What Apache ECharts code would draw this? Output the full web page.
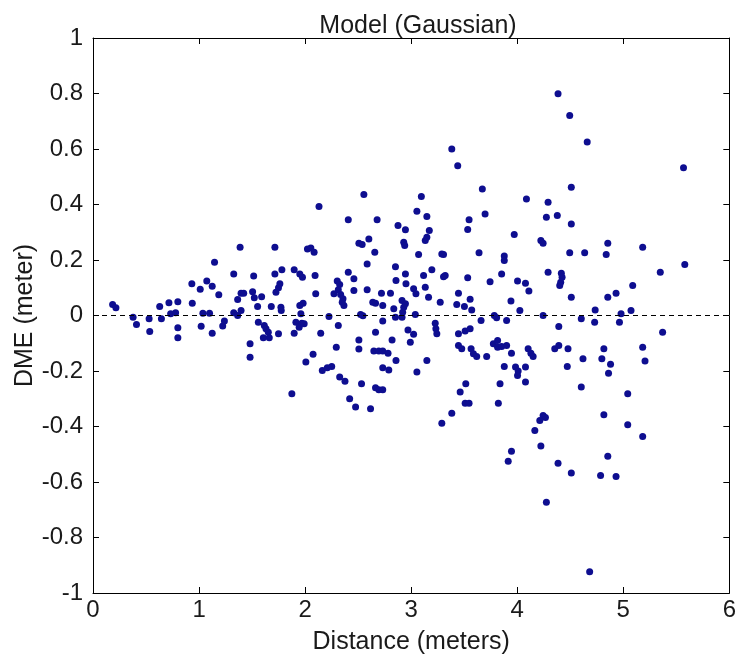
<!DOCTYPE html>
<html>
<head>
<meta charset="utf-8">
<script src="https://cdn.jsdelivr.net/npm/echarts@6/dist/echarts.min.js"></script>
<style>
html,body{margin:0;padding:0;background:#fff;}
#c{width:739px;height:665px;}
</style>
</head>
<body>
<div id="c"></div>
<script>
// Distance (meters) values
const distance = [
0.185,0.216,0.378,0.41,0.529,0.535,0.629,0.645,0.716,0.732,0.779,0.80,0.80,0.80,0.932,0.936,1.02,1.011,1.036,1.073,
1.124,1.099,1.124,1.146,1.186,1.223,1.239,1.327,1.327,1.364,1.364,1.387,1.396,1.396,1.421,1.481,1.481,1.505,1.515,1.521,
1.552,1.559,1.59,1.615,1.631,1.653,1.662,1.606,1.681,1.715,1.715,1.725,1.749,1.762,1.781,1.772,1.775,1.749,
1.875,1.897,1.95,1.975,1.897,1.913,1.944,1.969,1.991,1.96,1.981,1.95,2.007,2.075,2.022,2.054,2.085,2.094,2.1,2.131,
2.147,2.162,2.209,2.251,2.225,2.272,2.303,2.326,2.313,2.335,2.357,2.366,2.35,2.294,2.313,2.326,2.376,2.407,2.46,2.46,
2.407,2.42,2.476,2.507,2.538,2.601,2.507,2.507,2.523,2.545,2.532,2.554,2.585,2.585,2.617,2.638,2.664,2.657,2.648,2.695,
2.732,2.782,2.664,2.664,2.695,2.732,2.679,2.732,2.732,2.72,2.732,2.789,2.805,2.82,2.836,2.852,2.857,2.852,2.857,2.876,
2.946,2.914,2.92,2.914,2.93,2.946,2.93,2.939,2.946,2.951,2.97,2.992,3.023,3.023,3.045,3.039,3.054,3.07,3.096,3.054,
3.148,3.117,3.195,3.133,3.148,3.171,3.133,3.164,3.148,3.227,3.233,3.242,3.274,3.289,3.305,3.305,3.321,3.289,
4.385,4.495,4.66,3.383,3.439,3.671,4.51,4.087,4.291,3.697,3.546,3.533,4.275,4.378,4.51,3.972,4.223,4.244,3.64,3.878,
3.878,4.495,4.636,3.533,3.744,3.853,4.291,4.416,4.423,4.41,4.401,4.003,4.078,4.11,4.51,3.446,3.43,3.502,3.556,3.571,
3.941,4.025,3.659,3.784,3.806,3.9,4.244,4.604,4.73,4.735,3.446,3.509,3.556,3.446,3.477,3.565,3.587,3.618,3.712,3.775,
3.815,3.815,3.853,3.9,3.946,3.878,3.984,4.009,4.003,4.078,4.078,4.103,4.129,4.15,4.354,4.392,4.392,4.479,4.472,4.62,
4.604,3.515,3.462,3.509,3.546,3.838,3.822,3.383,4.244,4.266,4.213,4.166,4.223,3.946,3.915,4.385,4.51,4.275,
5.568,4.854,4.839,5.183,5.349,5.58,5.089,4.854,4.932,4.979,4.964,5.073,5.371,4.817,4.798,4.88,4.861,5.183,5.205,5.042,
4.817,5.042,5.183,4.854,4.786,4.932,4.683
];
// DME (meter) values, same order
const dme = [
0.04,0.028,-0.006,-0.032,-0.012,-0.058,0.032,-0.012,0.046,0.006,0.01,0.05,-0.044,-0.08,0.114,0.044,-0.039,0.095,0.008,0.124,
0.105,0.008,-0.064,0.192,0.075,-0.038,-0.02,0.15,0.01,0.058,0,0.246,0.08,0.018,0.08,-0.102,-0.15,0.086,0.142,0.064,
0.032,-0.024,0.068,-0.036,-0.048,-0.06,-0.08,-0.08,0.032,0.246,0.15,0.084,0.1,0.114,0.165,0.03,0.018,-0.066,
-0.282,0.165,0.15,0.138,-0.064,-0.024,-0.042,-0.028,-0.03,0.006,0.044,0.036,-0.168,-0.14,0.24,0.243,0.228,0.144,0.078,0.393,
-0.064,-0.198,-0.188,-0.184,-0.004,0.078,0.124,0.112,0.093,0.076,0.06,0.036,0.048,-0.114,-0.036,-0.222,-0.237,0.156,0.132,0.09,
0.345,-0.30,-0.33,0.26,0.256,0.276,-0.088,-0.121,0.004,-0.001,-0.246,0.436,0.186,0.093,-0.336,0.048,0.044,0.228,-0.128,-0.128,
-0.128,-0.136,-0.06,-0.26,-0.268,-0.268,0.345,0.036,-0.02,0.08,-0.188,-0.196,0.08,-0.088,0.024,-0.006,0.126,0.176,-0.162,0.324,
0.309,0.054,0.012,-0.006,0.03,0.042,0.264,0.252,0.15,0.114,-0.052,-0.096,-0.068,0.096,0.078,0.004,-0.204,0.22,0.429,0.376,
0.357,0.144,0.165,0.27,0.282,0.306,0.102,0.066,-0.162,-0.028,-0.048,-0.066,0.048,0.222,0.22,0.14,0.144,-0.388,
0.799,0.721,0.625,0.60,0.54,0.456,0.462,0.42,0.408,0.366,0.345,0.31,0.354,0.36,0.33,0.292,0.27,0.26,0.226,0.214,
0.198,0.226,0.226,0.136,0.122,0.15,0.156,0.152,0.138,0.12,0.108,0.124,0.116,0.088,0.066,0.08,0.04,0.032,0.059,0.02,
0.052,0.018,-0.018,0,-0.008,-0.018,0,-0.012,-0.024,0.02,-0.066,-0.056,-0.048,-0.108,-0.12,-0.12,-0.138,-0.148,-0.148,-0.102,
-0.09,-0.114,-0.112,-0.108,-0.136,-0.184,-0.186,-0.20,-0.216,-0.186,-0.24,-0.12,-0.136,-0.148,-0.12,-0.108,-0.04,-0.12,-0.184,-0.156,
-0.258,-0.246,-0.276,-0.316,-0.316,-0.246,-0.316,-0.352,-0.36,-0.368,-0.378,-0.414,-0.47,-0.489,-0.525,-0.532,-0.568,-0.673,
0.532,0.26,0.22,0.246,0.156,0.184,0.108,0.066,0.08,0.006,-0.024,0.018,-0.06,-0.12,-0.156,-0.176,-0.208,-0.114,-0.164,-0.282,
-0.358,-0.394,-0.436,-0.507,-0.577,-0.58,-0.923
];
const titleText = 'Model (Gaussian)';
const xName = 'Distance (meters)';
const yName = 'DME (meter)';
const xTicks = [0,1,2,3,4,5,6];
const yTicks = [-1,-0.8,-0.6,-0.4,-0.2,0,0.2,0.4,0.6,0.8,1];

const points = distance.map((d,i)=>[d, dme[i]]);
const FONT = "'Liberation Sans', Arial, sans-serif";
const axisCommon = {
  axisLine:{show:true, onZero:false, lineStyle:{color:'#000', width:1}},
  axisTick:{show:true, inside:true, length:6, lineStyle:{color:'#000', width:1}},
  splitLine:{show:false}
};
const chart = echarts.init(document.getElementById('c'), null, {renderer:'canvas'});
chart.setOption({
  animation:false,
  backgroundColor:'#fff',
  title:{text:titleText, left:413, top:9, textAlign:'center',
    textStyle:{fontFamily:FONT, fontSize:25, fontWeight:'normal', color:'#1a1a1a'}},
  grid:{left:93, right:6, top:38, bottom:72, containLabel:false},
  xAxis:[
    Object.assign({type:'value', position:'bottom', min:xTicks[0], max:xTicks[xTicks.length-1], interval:1,
      name:xName, nameLocation:'middle', nameGap:37, nameMoveOverlap:false,
      nameTextStyle:{fontFamily:FONT, fontSize:25, color:'#1a1a1a'},
      axisLabel:{fontFamily:FONT, fontSize:24, color:'#1a1a1a', margin:5}}, axisCommon),
    Object.assign({type:'value', position:'top', min:xTicks[0], max:xTicks[xTicks.length-1], interval:1,
      axisLabel:{show:false}}, axisCommon)
  ],
  yAxis:[
    Object.assign({type:'value', position:'left', min:yTicks[0], max:yTicks[yTicks.length-1], interval:0.2,
      name:yName, nameLocation:'middle', nameGap:55, nameMoveOverlap:false,
      nameTextStyle:{fontFamily:FONT, fontSize:25, color:'#1a1a1a'},
      axisLabel:{fontFamily:FONT, fontSize:24, color:'#1a1a1a', margin:10,
        formatter:v=>String(Math.round(v*10)/10)}}, axisCommon),
    Object.assign({type:'value', position:'right', min:yTicks[0], max:yTicks[yTicks.length-1], interval:0.2,
      axisLabel:{show:false}}, axisCommon)
  ],
  series:[{
    type:'scatter',
    xAxisIndex:0, yAxisIndex:0,
    data:points,
    symbol:'circle',
    symbolSize:7,
    itemStyle:{color:'#0e0e90', opacity:1},
    markLine:{
      silent:true, symbol:['none','none'], label:{show:false},
      lineStyle:{color:'#000', type:[5,4], width:1},
      data:[{yAxis:0}]
    },
    z:3
  }]
});
</script>
</body>
</html>
